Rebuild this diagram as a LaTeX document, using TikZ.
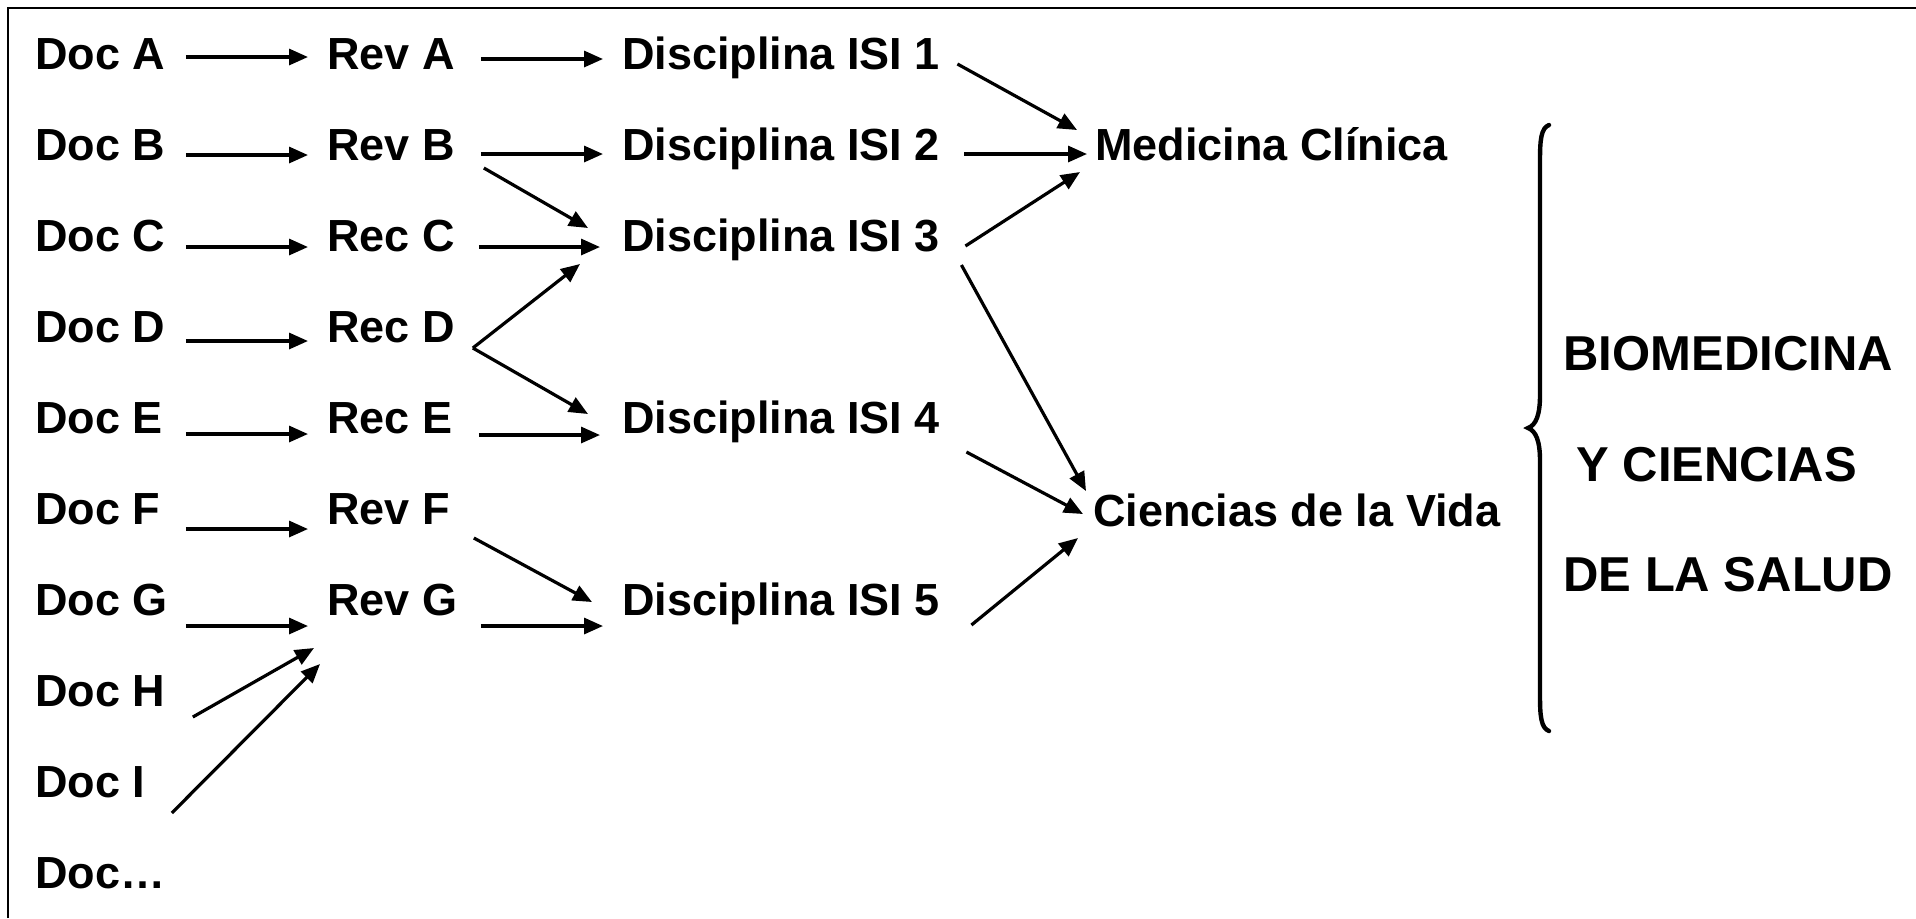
\documentclass[tikz,border=0pt]{standalone}
\usepackage{fontspec}
\setmainfont{Liberation Sans}
\usetikzlibrary{arrows.meta}
\begin{document}
\begin{tikzpicture}[x=0.5pt,y=-0.5pt,
  lbl/.style={anchor=base west, inner sep=0pt, font=\fontsize{22.5pt}{27pt}\selectfont\bfseries},
  big/.style={anchor=base west, inner sep=0pt, font=\fontsize{24.5pt}{29pt}\selectfont\bfseries},
  arr/.style={line width=1.6pt, -{Triangle[length=9.5pt,width=8pt]}},
  frameline/.style={line width=1.2pt},
  bracel/.style={line width=2.2pt, line cap=round}]
\useasboundingbox (0,0) rectangle (1916,918);
% frame (top and left edges visible)
\draw[frameline] (8,918) -- (8,8) -- (1916,8);

% column 1
\node[lbl] (docA) at (35,69) {Doc A};
\node[lbl] (docB) at (35,160) {Doc B};
\node[lbl] (docC) at (35,251) {Doc C};
\node[lbl] (docD) at (35,342) {Doc D};
\node[lbl] (docE) at (35,433) {Doc E};
\node[lbl] (docF) at (35,524) {Doc F};
\node[lbl] (docG) at (35,615) {Doc G};
\node[lbl] (docH) at (35,706) {Doc H};
\node[lbl] (docI) at (35,797) {Doc I};
\node[lbl] (docX) at (35,888) {Doc…};

% column 2
\node[lbl] (revA) at (327,69) {Rev A};
\node[lbl] (revB) at (327,160) {Rev B};
\node[lbl] (recC) at (327,251) {Rec C};
\node[lbl] (recD) at (327,342) {Rec D};
\node[lbl] (recE) at (327,433) {Rec E};
\node[lbl] (revF) at (327,524) {Rev F};
\node[lbl] (revG) at (327,615) {Rev G};

% column 3
\node[lbl] (isi1) at (622,69) {Disciplina ISI 1};
\node[lbl] (isi2) at (622,160) {Disciplina ISI 2};
\node[lbl] (isi3) at (622,251) {Disciplina ISI 3};
\node[lbl] (isi4) at (622,433) {Disciplina ISI 4};
\node[lbl] (isi5) at (622,615) {Disciplina ISI 5};

% column 4
\node[lbl] (med) at (1095,160) {Medicina Clínica};
\node[lbl] (cv) at (1093,526) {Ciencias de la Vida};

% right texts
\node[big] (t1) at (1563,370) {BIOMEDICINA};
\node[big] (t2) at (1576,481) {Y CIENCIAS};
\node[big] (t3) at (1563,591) {DE LA SALUD};

% col1 -> col2
\draw[arr] ([shift={(20,-12)}]docA.base east) -- ([shift={(-19,-12)}]revA.base west);
\draw[arr] ([shift={(20,-5)}]docB.base east) -- ([shift={(-19,-5)}]revB.base west);
\draw[arr] ([shift={(20,-4)}]docC.base east) -- ([shift={(-19,-4)}]recC.base west);
\draw[arr] ([shift={(20,-1)}]docD.base east) -- ([shift={(-19,-1)}]recD.base west);
\draw[arr] ([shift={(22.5,1)}]docE.base east) -- ([shift={(-19,1)}]recE.base west);
\draw[arr] ([shift={(25,5)}]docF.base east) -- ([shift={(-19,5)}]revF.base west);
\draw[arr] ([shift={(17.5,11)}]docG.base east) -- ([shift={(-19,11)}]revG.base west);
\draw[arr] ([shift={(27,11)}]docH.base east) -- ([shift={(-13,33)}]revG.base west);
\draw[arr] ([shift={(26,16)}]docI.base east) -- ([shift={(-7,49)}]revG.base west);

% col2 -> col3
\draw[arr] ([shift={(25.5,-10)}]revA.base east) -- ([shift={(-19,-10)}]isi1.base west);
\draw[arr] ([shift={(25.5,-6)}]revB.base east) -- ([shift={(-19,-6)}]isi2.base west);
\draw[arr] ([shift={(28.5,8)}]revB.base east) -- ([shift={(-34,-23)}]isi3.base west);
\draw[arr] ([shift={(23.5,-4)}]recC.base east) -- ([shift={(-22,-4)}]isi3.base west);
\draw[arr] ([shift={(17.5,6)}]recD.base east) -- ([shift={(-42,13)}]isi3.base west);
\draw[arr] ([shift={(17.5,6)}]recD.base east) -- ([shift={(-34,-19)}]isi4.base west);
\draw[arr] ([shift={(26,2)}]recE.base east) -- ([shift={(-22,2)}]isi4.base west);
\draw[arr] ([shift={(23.5,14)}]revF.base east) -- ([shift={(-30,-13)}]isi5.base west);
\draw[arr] ([shift={(23,11)}]revG.base east) -- ([shift={(-19,11)}]isi5.base west);

% col3 -> col4
\draw[arr] ([shift={(17,-5)}]isi1.base east) -- ([shift={(-18,-30)}]med.base west);
\draw[arr] ([shift={(24,-6)}]isi2.base east) -- ([shift={(-8,-6)}]med.base west);
\draw[arr] ([shift={(25,-5)}]isi3.base east) -- ([shift={(-15,12)}]med.base west);
\draw[arr] ([shift={(21,14)}]isi3.base east) -- ([shift={(-7,-35)}]cv.base west);
\draw[arr] ([shift={(26,19)}]isi4.base east) -- ([shift={(-10,-12)}]cv.base west);
\draw[arr] ([shift={(31,10)}]isi5.base east) -- ([shift={(-15,12)}]cv.base west);

% brace
\draw[bracel] (1549,125) .. controls (1541,128) and (1540,140) .. (1540,160)
  -- (1540,395) .. controls (1540,415) and (1536,425) .. (1528,428)
  .. controls (1536,431) and (1540,441) .. (1540,461)
  -- (1540,696) .. controls (1540,716) and (1541,728) .. (1549,731);
\end{tikzpicture}
\end{document}
